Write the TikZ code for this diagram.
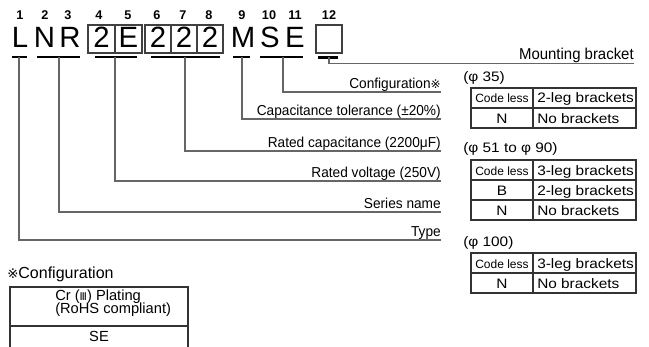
\documentclass[tikz,border=0pt]{standalone}
\usepackage{fontspec}
\setmainfont{Liberation Sans}
\newfontfamily\symfont{DejaVu Sans}
\newfontfamily\widefont[FakeStretch=1.12]{Liberation Sans}
\newfontfamily\condfont[FakeStretch=0.95]{Liberation Sans}
\begin{document}
\begin{tikzpicture}[x=0.75pt,y=-0.75pt,
  big/.style={anchor=base, inner sep=0pt, font=\fontsize{22}{24}\selectfont},
  num/.style={anchor=base, inner sep=0pt, font=\bfseries\fontsize{9.5}{10}\selectfont},
  lbl/.style={anchor=base east, inner sep=0pt, font=\condfont\fontsize{10.8}{12}\selectfont},
  conn/.style={draw=black!60, line width=0.8pt},
  bar/.style={draw=black, line width=2.2pt},
  cellbox/.style={draw=black!75, line width=0.8pt},
  tbl/.style={draw=black!80, line width=0.8pt},
  ttext/.style={anchor=base, inner sep=0pt, font=\widefont\fontsize{10.3}{12}\selectfont},
  tleft/.style={ttext, anchor=base west},
  codeless/.style={anchor=base, inner sep=0pt, font=\fontsize{9}{10}\selectfont},
]
\useasboundingbox (0,0) rectangle (649,346);

% position numbers
\node[num] (n1) at (20,20) {1};
\node[num] (n2) at (45,20) {2};
\node[num] (n3) at (68,20) {3};
\node[num] (n4) at (99,20) {4};
\node[num] (n5) at (128,20) {5};
\node[num] (n6) at (157,20) {6};
\node[num] (n7) at (183,20) {7};
\node[num] (n8) at (209,20) {8};
\node[num] (n9) at (242,20) {9};
\node[num] (n10) at (269,20) {10};
\node[num] (n11) at (295,20) {11};
\node[num] (n12) at (329,20) {12};

% code letters
\node[big] (L) at (20,47.5) {L};
\node[big] (N) at (44.5,47.5) {N};
\node[big] (R) at (70,47.5) {R};
\draw[cellbox] (88,25) rectangle (142,53);
\draw[cellbox] (115,25) -- (115,53);
\node[big] (c4) at (101.5,47.5) {2};
\node[big] (c5) at (128.5,47.5) {E};
\draw[cellbox] (145,25) rectangle (223,53);
\draw[cellbox] (171,25) -- (171,53);
\draw[cellbox] (197,25) -- (197,53);
\node[big] (c6) at (158,47.5) {2};
\node[big] (c7) at (184,47.5) {2};
\node[big] (c8) at (210,47.5) {2};
\node[big] (M) at (243,47.5) {M};
\node[big] (S) at (270,47.5) {S};
\node[big] (E) at (295,47.5) {E};
\draw[cellbox] (316,25) rectangle (342,53);

% bars under the groups
\draw[bar] (12,57) -- (27,57);
\draw[bar] (37,57) -- (80,57);
\draw[bar] (95,57) -- (137,57);
\draw[bar] (151,57) -- (220,57);
\draw[bar] (233,57) -- (250,57);
\draw[bar] (260,57) -- (303,57);
\draw[bar] (318,57.5) -- (338,57.5);

\coordinate (bL) at (19,57);
\coordinate (bNR) at (59,57);
\coordinate (b2E) at (115,57);
\coordinate (b222) at (185,57);
\coordinate (bM) at (242,57);
\coordinate (bSE) at (283,57);
\coordinate (b12) at (329,57.5);

\coordinate (e12) at (634,63.5);
\coordinate (eSE) at (441,92);
\coordinate (eM) at (441,119);
\coordinate (e222) at (441,151);
\coordinate (e2E) at (441,181);
\coordinate (eNR) at (441,212);
\coordinate (eL) at (441,240);

\draw[conn] (b12) |- (e12);
\draw[conn] (bSE) |- (eSE);
\draw[conn] (bM) |- (eM);
\draw[conn] (b222) |- (e222);
\draw[conn] (b2E) |- (e2E);
\draw[conn] (bNR) |- (eNR);
\draw[conn] (bL) |- (eL);

\node[lbl, font=\condfont\fontsize{11.8}{12}\selectfont] (t12) at (634,60) {Mounting bracket};
\node[lbl] (tSE) at (441,88.5) {Configuration{\symfont\fontsize{9}{10}\selectfont ※}};
\node[lbl] (tM) at (441,115.5) {Capacitance tolerance (±20\%)};
\node[lbl] (t222) at (441,147.5) {Rated capacitance (2200μF)};
\node[lbl] (t2E) at (441,177.5) {Rated voltage (250V)};
\node[lbl] (tNR) at (441,208.5) {Series name};
\node[lbl] (tL) at (441,236.5) {Type};

% table phi 35
\node[tleft] (h1) at (463,82) {(φ 35)};
\draw[tbl] (471,88) rectangle (636,128);
\draw[tbl] (471,108) -- (636,108);
\draw[tbl] (533,88) -- (533,128);
\node[codeless] (a11) at (502,103) {Code less};
\node[tleft] (a12) at (537,103) {2-leg brackets};
\node[ttext] (a21) at (502,123) {N};
\node[tleft] (a22) at (537,123) {No brackets};

% table phi 51 to 90
\node[tleft] (h2) at (463,152) {(φ 51 to φ 90)};
\draw[tbl] (471,160) rectangle (636,220);
\draw[tbl] (471,180) -- (636,180);
\draw[tbl] (471,200) -- (636,200);
\draw[tbl] (533,160) -- (533,220);
\node[codeless] (b11) at (502,175) {Code less};
\node[tleft] (b12t) at (537,175) {3-leg brackets};
\node[ttext] (b21) at (502,195) {B};
\node[tleft] (b22) at (537,195) {2-leg brackets};
\node[ttext] (b31) at (502,215) {N};
\node[tleft] (b32) at (537,215) {No brackets};

% table phi 100
\node[tleft] (h3) at (463,246) {(φ 100)};
\draw[tbl] (471,253) rectangle (636,293);
\draw[tbl] (471,273) -- (636,273);
\draw[tbl] (533,253) -- (533,293);
\node[codeless] (c11) at (502,268) {Code less};
\node[tleft] (c12t) at (537,268) {3-leg brackets};
\node[ttext] (c21) at (502,288) {N};
\node[tleft] (c22) at (537,288) {No brackets};

% configuration note
\node[anchor=base west, inner sep=0pt, font=\fontsize{12}{13}\selectfont] (cfg) at (7,278) {{\symfont\fontsize{10}{11}\selectfont ※}Configuration};
\draw[tbl] (10,347) -- (10,287) -- (188,287) -- (188,347);
\draw[tbl] (10,326) -- (188,326);
\node[anchor=base west, inner sep=0pt, font=\fontsize{11}{12}\selectfont] (cr1) at (55,300) {Cr ({\symfont\fontsize{8}{9}\selectfont Ⅲ}) Plating};
\node[anchor=base west, inner sep=0pt, font=\fontsize{11}{12}\selectfont] (cr2) at (55,313) {(RoHS compliant)};
\node[anchor=base, inner sep=0pt, font=\fontsize{11}{12}\selectfont] (se) at (99,341) {SE};
\end{tikzpicture}
\end{document}
